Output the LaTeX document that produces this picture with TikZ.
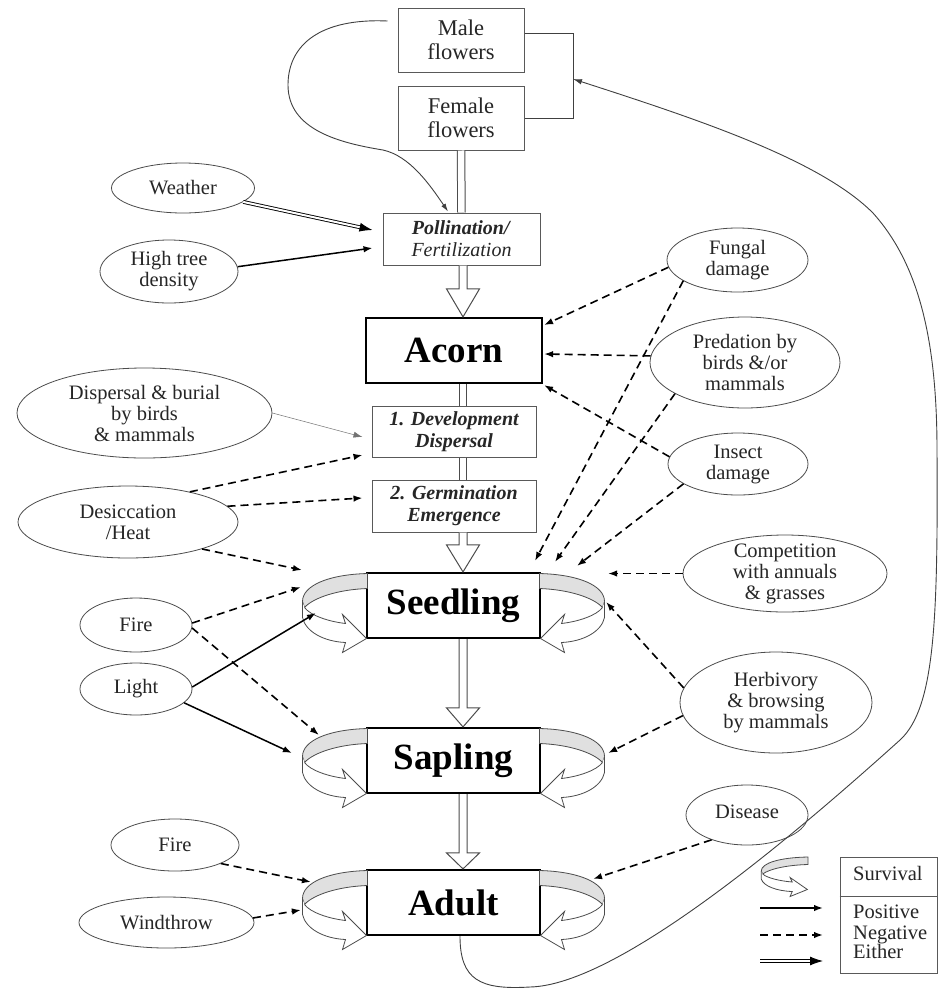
\documentclass[tikz,border=0pt]{standalone}
\usepackage{fontspec}
\setmainfont{Liberation Serif}
\usetikzlibrary{shapes.geometric,arrows.meta,calc}
\newcommand\survhalf{%
 \filldraw[ringband] (-86,-32) .. controls (-125,-31) and (-151,-20) .. (-151,-4) -- (-149,2) .. controls (-140,-8) and (-115,-16) .. (-86,-17) -- cycle;
 \filldraw[ringfront] (-149,2) .. controls (-143,10) and (-125,16) .. (-108,18) -- (-111,9) -- (-87,33) -- (-111,47) -- (-108,37) .. controls (-130,36) and (-148,26) .. (-151,12) -- (-151,-4);
}
\newcommand\hblock[3]{\draw[hollow] ($(#1)+(-4,0)$) -- ($(#2)+(-4,-#3)$) -- ($(#2)+(-16.5,-#3)$) -- (#2) -- ($(#2)+(16.5,-#3)$) -- ($(#2)+(4,-#3)$) -- ($(#1)+(4,0)$);}
\begin{document}
\begin{tikzpicture}[x=1pt,y=-1pt,
 oval/.style={ellipse, draw=black!70, line width=0.8pt, inner sep=0pt},
 ovaltext/.style={align=center, text=black!85, font=\fontsize{20.5}{21}\selectfont, inner sep=0pt},
 fbox/.style={rectangle, draw=black!65, line width=1pt, inner sep=0pt, align=center, fill=white, text=black!85},
 stage/.style={rectangle, draw=black, line width=2.2pt, inner sep=0pt, fill=white, font=\fontsize{37}{40}\selectfont\bfseries, minimum width=173pt, minimum height=65pt},
 negarrow/.style={-{Latex[length=9pt,width=6.5pt]}, dash pattern=on 8pt off 5pt, line width=1.6pt},
 posarrow/.style={-{Latex[length=9pt,width=6.5pt]}, line width=1.5pt},
 eitherarrow/.style={-{Latex[length=13pt,width=9pt]}, double=white, double distance=2pt, line width=0.9pt},
 dbl/.style={double=white, double distance=6.5pt, line width=1pt, draw=black!70},
 hollow/.style={draw=black!70, line width=1pt, fill=white},
 thinl/.style={draw=black!75, line width=0.9pt},
 ringband/.style={fill=black!12, draw=black!70, line width=0.8pt},
 ringfront/.style={fill=white, draw=black!70, line width=0.8pt},
 survival/.pic={\survhalf\begin{scope}[xscale=-1]\survhalf\end{scope}}
]
\fill[white] (0,0) rectangle (940,989);
\useasboundingbox (0,0) rectangle (940,989);

% ---- boxes
\node[fbox, minimum width=126pt, minimum height=64pt, font=\fontsize{22.5}{24}\selectfont] (male) at (461,40) {Male\\flowers};
\node[fbox, minimum width=126pt, minimum height=64pt, font=\fontsize{22.5}{24}\selectfont] (female) at (461,118) {Female\\flowers};
\node[fbox, minimum width=157pt, minimum height=52pt, font=\fontsize{20}{22}\selectfont] (poll) at (461.5,239) {\textbf{\textit{Pollination/}}\\\textit{Fertilization}};
\node[stage, minimum width=176pt] (acorn) at (454,350.5) {Acorn};
\node[fbox, minimum width=164pt, minimum height=51pt, font=\fontsize{20}{22}\selectfont\bfseries\itshape] (dev) at (454,431.5) {1. Development\\Dispersal};
\node[fbox, minimum width=164pt, minimum height=52pt, font=\fontsize{20}{22}\selectfont\bfseries\itshape] (germ) at (454,506) {2. Germination\\Emergence};
\node[stage] (seedling) at (453.5,605.5) {Seedling};
\node[stage] (sapling) at (453.5,760.5) {Sapling};
\node[stage] (adult) at (453.5,902.5) {Adult};

% ---- survival rings
\pic at (seedling.center) {survival};
\pic at (sapling.center) {survival};
\pic at (adult.center) {survival};

% ---- ovals
\node[oval, minimum width=143pt, minimum height=50pt] (weather) at (183,188) {};
\node[ovaltext] (weather-t) at (weather) {Weather};
\node[oval, minimum width=138pt, minimum height=63pt] (hightree) at (169,271.5) {};
\node[ovaltext] (hightree-t) at (hightree) {High tree\\density};
\node[oval, minimum width=141pt, minimum height=64pt] (fungal) at (737.5,260) {};
\node[ovaltext] (fungal-t) at (fungal) {Fungal\\damage};
\node[oval, minimum width=190pt, minimum height=91pt] (predation) at (745,362.5) {};
\node[ovaltext] (predation-t) at (predation) {Predation by\\birds \&/or\\mammals};
\node[oval, minimum width=140pt, minimum height=62pt] (insect) at (738,464) {};
\node[ovaltext] (insect-t) at (insect) {Insect\\damage};
\node[oval, minimum width=204pt, minimum height=77pt] (competition) at (785,573.5) {};
\node[ovaltext] (competition-t) at (competition) {Competition\\with annuals\\\& grasses};
\node[oval, minimum width=192pt, minimum height=101pt] (herbivory) at (776,702.5) {};
\node[ovaltext] (herbivory-t) at (herbivory) {Herbivory\\\& browsing\\by mammals};
\node[oval, minimum width=122pt, minimum height=60pt] (disease) at (747,815) {};
\node[ovaltext] (disease-t) at ([yshift=3pt]disease.center) {Disease};
\node[oval, minimum width=255pt, minimum height=90pt] (dispersal) at (144.5,413) {};
\node[ovaltext] (dispersal-t) at (dispersal) {Dispersal \& burial\\by birds\\\& mammals};
\node[oval, minimum width=220pt, minimum height=72pt] (desic) at (128,522) {};
\node[ovaltext] (desic-t) at (desic) {Desiccation\\/Heat};
\node[oval, minimum width=112pt, minimum height=54pt] (fire1) at (136,625) {};
\node[ovaltext] (fire1-t) at (fire1) {Fire};
\node[oval, minimum width=112pt, minimum height=52pt] (light) at (136,689) {};
\node[ovaltext] (light-t) at (light) {Light};
\node[oval, minimum width=128pt, minimum height=52pt] (fire2) at (175,845) {};
\node[ovaltext] (fire2-t) at (fire2) {Fire};
\node[oval, minimum width=175pt, minimum height=51pt] (windthrow) at (166.5,922.5) {};
\node[ovaltext] (windthrow-t) at (windthrow) {Windthrow};

% ---- flower connectors
\draw[thinl, -{Latex[length=8pt,width=5pt]}] ([shift={(-10,-19)}]male.west) .. controls (320,18) and (288,45) .. (288,85) .. controls (288,130) and (340,143) .. (383,150) .. controls (410,156) and (430,185) .. ([shift={(-13.5,-1)}]poll.north);
\draw[thinl] ([yshift=7pt]male.east) -- ++(49,0) |- (female.east);
\coordinate (brk) at (573,79);
\draw[thinl, -{Latex[length=9pt,width=5.5pt]}] ([shift={(6.5,0)}]adult.south) .. controls (460,980) and (480,990) .. (530,987) .. controls (620,985) and (800,830) .. (900,740) .. controls (935,708) and (938,620) .. (937,450) .. controls (937,330) and (915,260) .. (873,213) .. controls (820,160) and (700,120) .. (brk);

% ---- spine
\coordinate (spine) at (463,0);
\draw[dbl] (female.south) -- (poll.north);
\draw[dbl] (acorn.south -| spine) -- (dev.north -| spine);
\draw[dbl] (dev.south -| spine) -- (germ.north -| spine);
\coordinate (h1a) at (poll.south -| spine);
\coordinate (h1b) at (acorn.north -| spine);
\coordinate (h2a) at (germ.south -| spine);
\coordinate (h2b) at (seedling.north -| spine);
\coordinate (h3a) at (seedling.south -| spine);
\coordinate (h3b) at (sapling.north -| spine);
\coordinate (h4a) at (sapling.south -| spine);
\coordinate (h4b) at (adult.north -| spine);
\hblock{h1a}{h1b}{28}
\hblock{h2a}{h2b}{27}
\hblock{h3a}{h3b}{19}
\hblock{h4a}{h4b}{16}

% ---- influences
\draw[eitherarrow] (weather.-13) -- ([shift={(-10,-9)}]poll.west);
\draw[posarrow] (hightree.4) -- ([shift={(-10,9)}]poll.west);
\draw[negarrow] (fungal.186) -- ([shift={(1,-25.5)}]acorn.east);
\draw[negarrow] (fungal.201) -- ([shift={(81.5,-11)}]seedling.north);
\draw[negarrow] (predation.176) -- ([shift={(1,3.5)}]acorn.east);
\draw[negarrow] (predation.204) -- ([shift={(101.5,-10)}]seedling.north);
\draw[negarrow] (insect.174) -- ([shift={(1,1)}]acorn.south east);
\draw[negarrow] (insect.200) -- ([shift={(123.5,-6)}]seedling.north);
\draw[negarrow] (competition.west) -- ([shift={(67,-32)}]seedling.east);
\draw[negarrow] (herbivory.171) -- ([shift={(65,-3.5)}]seedling.east);
\draw[negarrow] (herbivory.188) -- ([shift={(67,-7.5)}]sapling.east);
\draw[negarrow] (fire1.2) -- ([shift={(-65,-18.5)}]seedling.west);
\draw[negarrow] (fire1.-3) -- ([shift={(-47,-25.5)}]sapling.west);
\draw[posarrow] (light.2) -- ([shift={(-50,7.5)}]seedling.west);
\draw[posarrow] (light.-16) -- ([shift={(-74,-7.5)}]sapling.west);
\draw[-{Latex[length=9pt,width=6pt]}, draw=black!55, line width=0.5pt] (dispersal.east) -- ([shift={(-9,5.5)}]dev.west);
\draw[negarrow] (desic.26) -- ([shift={(-9,23.5)}]dev.west);
\draw[negarrow] (desic.9) -- ([shift={(-9,-8)}]germ.west);
\draw[negarrow] (desic.-20) -- ([shift={(-64,-35.5)}]seedling.west);
\draw[negarrow] (fire2.-22) -- ([shift={(-55,-20.5)}]adult.west);
\draw[negarrow] (windthrow.3) -- ([shift={(-65,7.5)}]adult.west);
\draw[negarrow] (disease.215) -- ([shift={(52,-23.5)}]adult.east);

% ---- legend
\node[rectangle, draw=black!65, line width=1pt, minimum width=97pt, minimum height=116pt, inner sep=0pt] (legend) at (888.5,915) {};
\draw[draw=black!65, line width=1pt] ([yshift=-40pt]legend.north west) -- ([yshift=-40pt]legend.north east);
\node[anchor=base west, inner sep=0pt, text=black!85, font=\fontsize{20.5}{20}\selectfont] (lsurv) at (853,880) {Survival};
\node[anchor=base west, inner sep=0pt, text=black!85, font=\fontsize{20.5}{20}\selectfont] (lpos) at (853,918) {Positive};
\node[anchor=base west, inner sep=0pt, text=black!85, font=\fontsize{20.5}{20}\selectfont] (lneg) at (853,939) {Negative};
\node[anchor=base west, inner sep=0pt, text=black!85, font=\fontsize{20.5}{20}\selectfont] (leit) at (853,958) {Either};
\begin{scope}[shift={(870,873)}, xscale=0.72, yscale=0.5]
 \survhalf
\end{scope}
\coordinate (lp0) at (760,908); \coordinate (lp1) at (823,908);
\coordinate (ln0) at (760,935); \coordinate (ln1) at (823,935);
\coordinate (le0) at (760,961); \coordinate (le1) at (823,961);
\draw[posarrow] (lp0) -- (lp1);
\draw[negarrow] (ln0) -- (ln1);
\draw[eitherarrow] (le0) -- (le1);
\end{tikzpicture}
\end{document}
